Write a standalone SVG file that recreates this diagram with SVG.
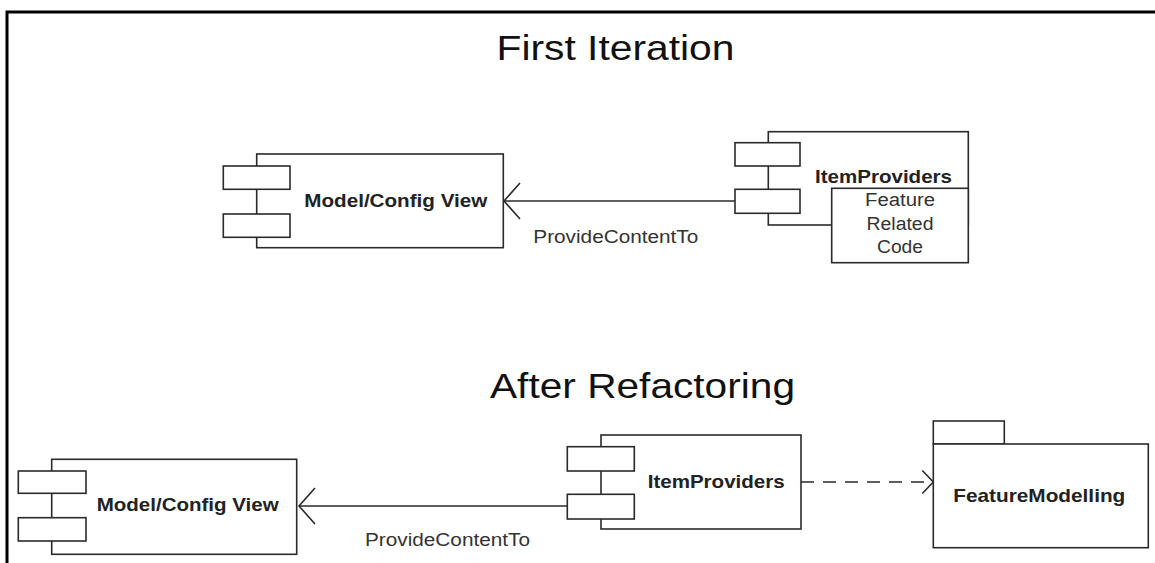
<svg xmlns="http://www.w3.org/2000/svg" width="1155" height="563" viewBox="0 0 1155 563">
<style>
.frame{stroke:#000;stroke-width:3;fill:none}
.box{fill:#fff;stroke:#2a2a2a;stroke-width:1.6}
.ln{fill:none;stroke:#2a2a2a;stroke-width:1.6}
.title{font-family:"Liberation Sans",Arial,sans-serif;font-size:35px;fill:#111}
.bold{font-family:"Liberation Sans",Arial,sans-serif;font-size:19px;font-weight:bold;fill:#222}
.reg{font-family:"Liberation Sans",Arial,sans-serif;font-size:18px;fill:#333}
</style>
<defs>
<marker id="open" markerUnits="userSpaceOnUse" markerWidth="40" markerHeight="40" refX="0" refY="0" orient="auto" overflow="visible">
<path d="M-16,-18 L0,0 L-16,18" fill="none" stroke="#2a2a2a" stroke-width="1.6"/>
</marker>
<marker id="openSmall" markerUnits="userSpaceOnUse" markerWidth="30" markerHeight="30" refX="0" refY="0" orient="auto" overflow="visible">
<path d="M-11,-11.5 L0,0 L-11,11.5" fill="none" stroke="#2a2a2a" stroke-width="1.6"/>
</marker>
</defs>
<rect width="1155" height="563" fill="#fff"/>
<g id="frame">
<path class="frame" d="M7,563 L7,12 L1155,12"/>
</g>
<g id="titles">
<text class="title" x="496.5" y="60" textLength="238" lengthAdjust="spacingAndGlyphs">First Iteration</text>
<text class="title" x="490" y="398" textLength="305" lengthAdjust="spacingAndGlyphs">After Refactoring</text>
</g>
<g id="connectors">
<line class="ln" x1="735" y1="201" x2="504" y2="201" marker-end="url(#open)"/>
<text class="reg" x="533.3" y="242.7" textLength="165" lengthAdjust="spacingAndGlyphs">ProvideContentTo</text>
<line class="ln" x1="567.3" y1="506" x2="299" y2="506" marker-end="url(#open)"/>
<text class="reg" x="365" y="546" textLength="165" lengthAdjust="spacingAndGlyphs">ProvideContentTo</text>
<line class="ln" x1="801" y1="482" x2="933.3" y2="482" stroke-dasharray="13 9" marker-end="url(#openSmall)"/>
</g>
<g id="model-config-view-1">
<rect class="box" x="256.7" y="154" width="246.6" height="93.7"/>
<rect class="box" x="223.3" y="166" width="66.7" height="23.3"/>
<rect class="box" x="223.3" y="214" width="66.7" height="23.3"/>
<text class="bold" x="304.3" y="206.7" textLength="183" lengthAdjust="spacingAndGlyphs">Model/Config View</text>
</g>
<g id="item-providers-1">
<rect class="box" x="768.3" y="131.7" width="200" height="93.3"/>
<rect class="box" x="735" y="142.7" width="65" height="23.3"/>
<rect class="box" x="735" y="189.3" width="65" height="24"/>
<text class="bold" x="815" y="183.3" textLength="137" lengthAdjust="spacingAndGlyphs">ItemProviders</text>
<rect class="box" x="831.7" y="188.3" width="136.6" height="74.4"/>
<text class="reg" x="900" y="206" text-anchor="middle" textLength="70" lengthAdjust="spacingAndGlyphs">Feature</text>
<text class="reg" x="900" y="230" text-anchor="middle" textLength="67" lengthAdjust="spacingAndGlyphs">Related</text>
<text class="reg" x="900" y="253.3" text-anchor="middle" textLength="46" lengthAdjust="spacingAndGlyphs">Code</text>
</g>
<g id="model-config-view-2">
<rect class="box" x="51.7" y="459.3" width="245" height="95"/>
<rect class="box" x="18.3" y="471" width="67.7" height="22.3"/>
<rect class="box" x="18.3" y="517.7" width="67.7" height="23.3"/>
<text class="bold" x="96.7" y="511" textLength="182" lengthAdjust="spacingAndGlyphs">Model/Config View</text>
</g>
<g id="item-providers-2">
<rect class="box" x="601" y="435" width="200" height="94"/>
<rect class="box" x="567.3" y="446.7" width="67" height="24.3"/>
<rect class="box" x="567.3" y="494.3" width="67" height="24.7"/>
<text class="bold" x="647.7" y="488.3" textLength="137" lengthAdjust="spacingAndGlyphs">ItemProviders</text>
</g>
<g id="feature-modelling">
<rect class="box" x="933.3" y="421" width="71" height="23"/>
<rect class="box" x="933.3" y="444" width="215" height="103.7"/>
<text class="bold" x="953.3" y="501.7" textLength="172" lengthAdjust="spacingAndGlyphs">FeatureModelling</text>
</g>
</svg>
